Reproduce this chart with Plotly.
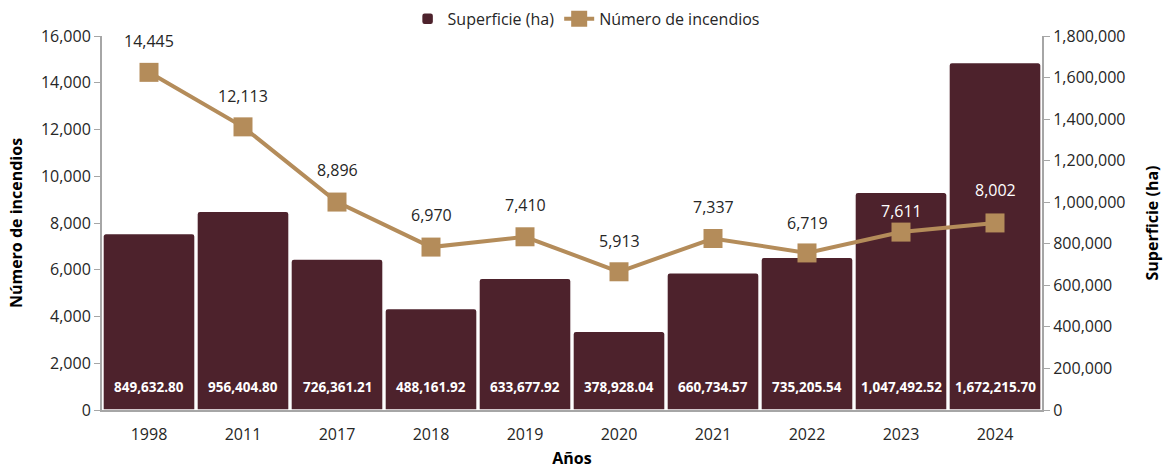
import plotly.graph_objects as go

years = ["1998", "2011", "2017", "2018", "2019", "2020", "2021", "2022", "2023", "2024"]
superficie = [849632.80, 956404.80, 726361.21, 488161.92, 633677.92, 378928.04,
              660734.57, 735205.54, 1047492.52, 1672215.70]
incendios = [14445, 12113, 8896, 6970, 7410, 5913, 7337, 6719, 7611, 8002]

BAR = "#4d222c"
LINE = "#b48c5a"
AXC = "#a6a6a6"
TXT = "#262626"
FONT = "Open Sans"

label_shift = [31, 31, 32, 32, 32, 31, 32, 30, 21, 33]
label_color = [TXT] * 8 + ["white", "white"]

fig = go.Figure()
fig.add_trace(go.Bar(
    x=years, y=superficie, name="Superficie (ha)", yaxis="y",
    marker=dict(color=BAR, line=dict(color="white", width=1.5), cornerradius=3),
))
fig.add_trace(go.Scatter(
    x=years, y=incendios, name="Número de incendios", yaxis="y2",
    mode="lines+markers",
    line=dict(color=LINE, width=4),
    marker=dict(symbol="square", size=19, color=LINE),
))

ann = []
# category axis: annotation x given as category index (year strings look numeric)
for i, v in enumerate(superficie):
    ann.append(dict(x=i, y=0, xref="x", yref="y", text=f"<b>{v:,.2f}</b>",
                    showarrow=False, yanchor="bottom", yshift=12,
                    font=dict(family=FONT, size=13.5, color="white")))
for i, (v, s, c) in enumerate(zip(incendios, label_shift, label_color)):
    ann.append(dict(x=i, y=v, xref="x", yref="y2", text=f"{v:,}",
                    showarrow=False, yanchor="middle", yshift=s,
                    font=dict(family=FONT, size=16, color=c)))

fig.update_layout(
    width=1166, height=469,
    margin=dict(l=102, r=124, t=36, b=59),
    paper_bgcolor="white", plot_bgcolor="white",
    font=dict(family=FONT, size=16, color=TXT),
    bargap=0.02,
    showlegend=True,
    legend=dict(orientation="h", x=0.515, xanchor="center", y=0.96, yanchor="middle",
                yref="container",
                font=dict(family=FONT, size=16, color=TXT),
                traceorder="normal"),
    annotations=ann,
    xaxis=dict(
        type="category", automargin=False, range=[-0.5, len(years) - 0.5],
        showline=True, linecolor=AXC, linewidth=2, ticks="", showgrid=False,
        ticklabelstandoff=9,
        title=dict(text="<b>Años</b>", font=dict(family=FONT, size=16, color="black"), standoff=14),
    ),
    yaxis=dict(
        side="right", range=[0, 1800000], dtick=200000, tickformat=",", automargin=False,
        showline=True, linecolor=AXC, linewidth=2, ticks="outside", ticklen=6,
        tickcolor=AXC, showgrid=False, zeroline=False,
        title=dict(text="<b>Superficie (ha)</b>", font=dict(family=FONT, size=16, color="black"), standoff=22),
    ),
    yaxis2=dict(
        side="left", overlaying="y", range=[0, 16000], dtick=2000, tickformat=",", automargin=False,
        showline=True, linecolor=AXC, linewidth=2, ticks="outside", ticklen=6,
        tickcolor=AXC, showgrid=False, zeroline=False,
        title=dict(text="<b>Número de incendios</b>", font=dict(family=FONT, size=16, color="black"), standoff=14),
    ),
)

fig.write_html("out.html", config={"displayModeBar": False},
               post_script="document.body.style.margin='0';")
